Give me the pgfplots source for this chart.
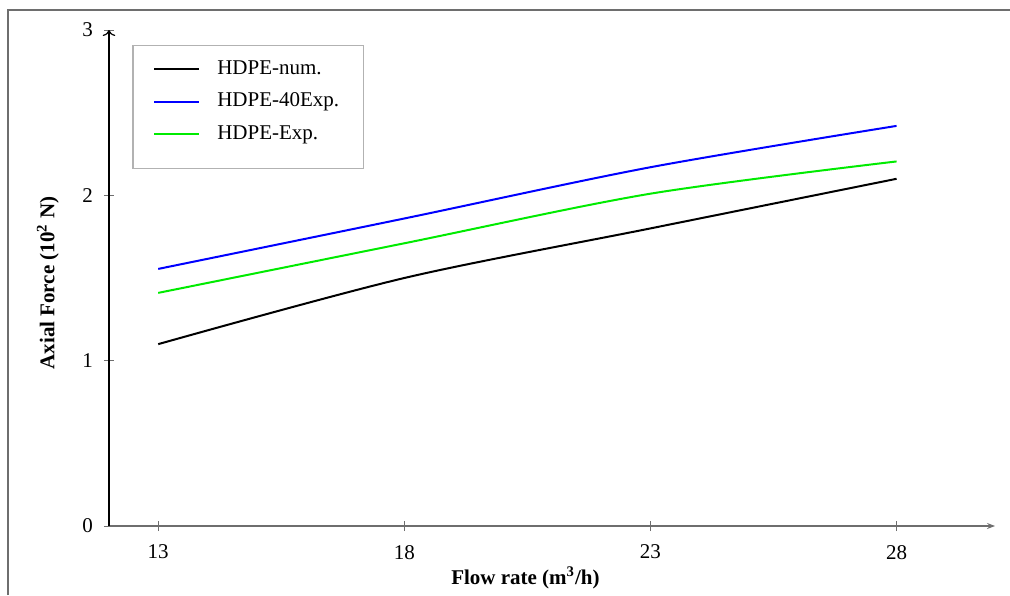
\documentclass[border=0pt]{standalone}
\usepackage{fontspec}
\setmainfont{Liberation Serif}
\usepackage{pgfplots}
\pgfplotsset{compat=1.18}
\usetikzlibrary{arrows.meta}
\definecolor{hdpegreen}{RGB}{0,235,0}
\definecolor{axgray}{RGB}{110,110,110}

\begin{document}
\begin{tikzpicture}
  % picture is 1010x595 px at 0.5pt per px
  \useasboundingbox (0,0) rectangle (505pt,297.5pt);
  \draw[axgray, line width=0.8pt] (4pt,0) -- (4pt,292.5pt) -- (505pt,292.5pt);
  \begin{axis}[
    at={(54.5pt,34.5pt)}, anchor=origin,
    scale only axis, width=443pt, height=248pt,
    xmin=12, xmax=30, ymin=0, ymax=3,
    axis lines=left,
    axis line style={line width=0.6pt},
    x axis line style={axgray, -{Stealth[length=4pt]}},
    y axis line style={black, -{To[length=3pt]}},
    xtick={13,18,23,28}, ytick={0,1,2,3},
    tick align=center, major tick length=5pt,
    tick style={axgray, line width=0.5pt},
    font=\fontsize{10.5}{12}\selectfont,
    /pgf/number format/assume math mode=true,
    xlabel={\textbf{Flow rate (m\textsuperscript{3}/h)}},
    ylabel={\textbf{Axial Force (10\textsuperscript{2} N)}},
    xlabel style={at={(axis description cs:0.47,0)}, anchor=north, yshift=-17pt},
    ylabel style={at={(axis description cs:0,0.49)}, anchor=south, yshift=21.5pt},
    yticklabel style={xshift=-2pt},
    xticklabel style={yshift=-3.5pt},
    legend style={name=leg, at={(axis description cs:0.027,0.968)}, anchor=north west,
      draw=none, inner xsep=10pt, inner ysep=5pt,
      row sep=4pt, column sep=6.5pt, font=\fontsize{10.5}{12}\selectfont},
    legend cell align=left,
    legend image code/.code={\draw[#1, line width=1pt] (0,0) -- (22.5pt,0);},
    every axis plot/.append style={line width=1pt, smooth, tension=0.5},
  ]
    \addplot[black] coordinates {(13,1.10) (18,1.50) (23,1.80) (28,2.10)};
    \addlegendentry{HDPE-num.}
    \addplot[blue] coordinates {(13,1.555) (18,1.86) (23,2.17) (28,2.42)};
    \addlegendentry{HDPE-40Exp.}
    \addplot[hdpegreen] coordinates {(13,1.41) (18,1.71) (23,2.01) (28,2.205)};
    \addlegendentry{HDPE-Exp.}
  \end{axis}
  % legend frame, a little deeper at the bottom as in the original
  \draw[gray!60, line width=0.6pt] (leg.north west) rectangle ([yshift=-5.5pt]leg.south east);
\end{tikzpicture}
\end{document}
